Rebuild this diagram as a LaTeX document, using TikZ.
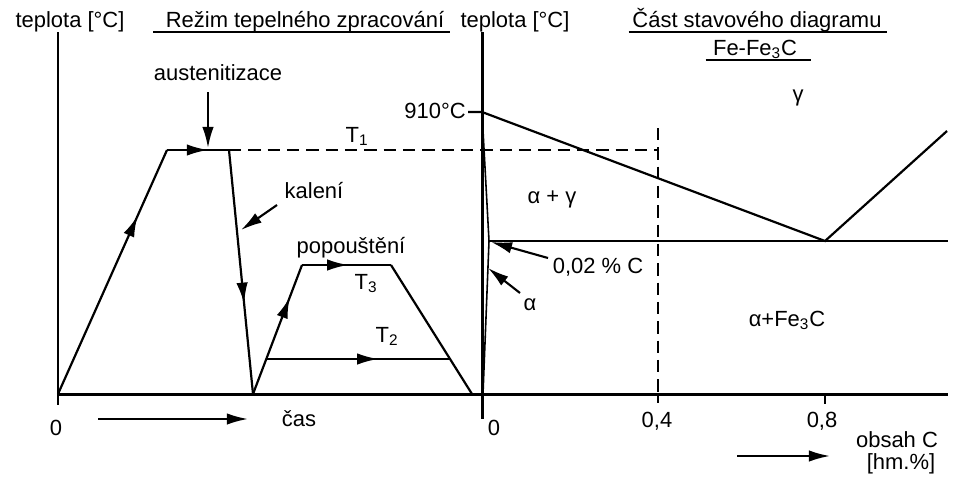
\documentclass[tikz,border=0pt]{standalone}
\usepackage{fontspec}
\setmainfont{Liberation Sans}
\usetikzlibrary{arrows.meta,decorations.markings}

\begin{document}
\begin{tikzpicture}[x=0.02cm, y=-0.02cm,
  every node/.style={font=\fontsize{12.5}{15}\selectfont, inner sep=0pt},
  axis/.style={line width=1.7pt},
  curve/.style={line width=1.25pt},
  guide/.style={line width=1.2pt, dash pattern=on 7pt off 4pt},
  pointer/.style={line width=1.2pt, -{Latex[length=12pt, width=6.5pt]}},
  flowarrow/.style={postaction={decorate}, decoration={markings,
    mark=at position #1 with {\arrow{Latex[length=12pt, width=6.5pt]}}}}]
  % page
  \path[fill=white] (0,0) rectangle (955,480);
  % titles
  \node[anchor=base] (tempL) at (70,27) {teplota [°C]};
  \node[anchor=base] (rezim) at (305,27) {Režim tepelného zpracování};
  \node[anchor=base] (tempR) at (515,27) {teplota [°C]};
  \node[anchor=base] (cast) at (757,27) {Část stavového diagramu};
  \node[anchor=base] (fefe) at (755,55) {Fe-Fe\textsubscript{3}C};
  \coordinate (ulA) at (0,32);
  \coordinate (ulB) at (0,60);
  \draw[curve] ([xshift=-7pt]rezim.west |- ulA) -- ([xshift=3pt]rezim.east |- ulA);
  \draw[curve] ([xshift=-2pt]cast.west |- ulA) -- ([xshift=3pt]cast.east |- ulA);
  \draw[curve] ([xshift=-4pt]fefe.west |- ulB) -- ([xshift=8pt]fefe.east |- ulB);
  % axes
  \coordinate (oL) at (58,394);
  \coordinate (oR) at (482,394);
  \coordinate (end) at (948,394);
  \draw[axis] (58,32) -- (58,405);
  \draw[axis] (482,32) -- (482,419);
  \draw[axis] (oL) -- (end);
  % heat treatment cycle
  \coordinate (heat) at (167,150);
  \coordinate (hold) at (229,150);
  \coordinate (quench) at (253,394);
  \coordinate (t3a) at (302,265);
  \coordinate (t3b) at (391,265);
  \coordinate (cool) at (472,394);
  \coordinate (t2a) at (266,359);
  \coordinate (t2b) at (450,359);
  \draw[curve, flowarrow=0.73] (oL) -- (heat);
  \draw[curve, flowarrow=0.66] (heat) -- (hold);
  \draw[curve, flowarrow=0.63] (hold) -- (quench);
  \draw[curve, flowarrow=0.75] (quench) -- (t3a);
  \draw[curve, flowarrow=0.52] (t3a) -- (t3b);
  \draw[curve] (t3b) -- (cool);
  \draw[curve, flowarrow=0.61] (t2a) -- (t2b);
  % T1 guide
  \coordinate (g04) at (658,150);
  \draw[guide] (hold) -- (g04);
  \draw[guide] (658,128) -- (658,394);
  % phase diagram
  \coordinate (a910) at (482,112);
  \coordinate (pP) at (489,241);
  \coordinate (eut) at (825,241);
  \draw[curve] (468,112) -- (a910) -- (eut) -- (947,131);
  \draw[curve] (pP) -- (948,241);
  \draw[line width=0.9pt] (a910) -- (pP) -- (483,394);
  \draw[curve] (658,394) -- (658,403);
  \draw[curve] (825,394) -- (825,404);
  % labels left
  \node[anchor=base] (aust) at (218,80) {austenitizace};
  \draw[pointer] (208,92) -- (208,148);
  \node[anchor=base] (kal) at (314,198) {kalení};
  \draw[pointer] (277,205) -- (241,230);
  \node[anchor=base] (pop) at (351,253) {popouštění};
  \node[anchor=base] (T1) at (357,142) {T\textsubscript{1}};
  \node[anchor=base] (T3) at (366,289) {T\textsubscript{3}};
  \node[anchor=base] (T2) at (387,342) {T\textsubscript{2}};
  \node[anchor=base] (zeroL) at (56,435) {0};
  \node[anchor=base] (cas) at (299,426) {čas};
  \draw[pointer] (98,419) -- (248,419);
  % labels right
  \node[anchor=base east] (t910) at (466,118) {910°C};
  \node[anchor=base] (gam) at (798,101) {γ};
  \node[anchor=base] (ag) at (552,203) {α + γ};
  \node[anchor=base] (c002) at (598,273) {0,02 \% C};
  \draw[pointer] (548,258) -- (491,242);
  \node[anchor=base] (alf) at (530,310) {α};
  \draw[pointer] (520,293) -- (488,268);
  \node[anchor=base] (afe) at (787,326) {α+Fe\textsubscript{3}C};
  \node[anchor=base] (zeroR) at (494,435) {0};
  \node[anchor=base] (x04) at (657,427) {0,4};
  \node[anchor=base] (x08) at (822,427) {0,8};
  \node[anchor=base] (obsah) at (897,447) {obsah C};
  \node[anchor=base] (hm) at (901,469) {[hm.\%]};
  \draw[pointer] (737,456) -- (830,456);
\end{tikzpicture}
\end{document}
